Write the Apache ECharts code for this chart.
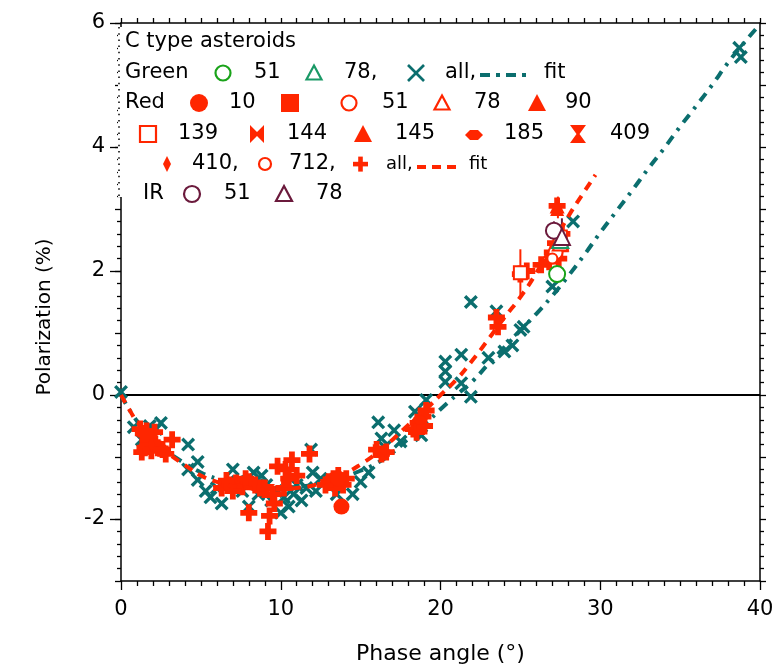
<!DOCTYPE html>
<html><head><meta charset="utf-8">
<script src="https://cdn.jsdelivr.net/npm/echarts@6/dist/echarts.min.js"></script>
<style>html,body{margin:0;padding:0;background:#fff}#c{width:781px;height:671px}</style>
</head><body><div id="c"></div>
<script>
// ---------- data ----------
const xTickValues = [0, 10, 20, 30, 40];
const yTickLabels = [-2, 0, 2, 4, 6];

// Green filter, all asteroids (x markers)
const greenAll = [
 [0.0,0.05],[0.8,-0.52],[1.3,-0.72],[1.8,-0.5],[2.2,-0.55],[2.5,-0.45],[4.2,-0.8],[4.8,-1.08],[4.2,-1.2],
 [4.8,-1.37],[5.3,-1.55],[5.6,-1.65],[6.0,-1.5],[6.3,-1.75],[7.0,-1.2],[7.3,-1.4],[7.6,-1.55],[8.0,-1.8],
 [8.3,-1.25],[8.6,-1.6],[8.8,-1.3],[9.1,-1.45],[9.4,-1.7],[9.7,-1.55],[10.0,-1.9],[10.2,-1.65],[10.5,-1.8],
 [10.8,-1.6],[11.0,-1.45],[11.3,-1.7],[11.6,-1.5],[11.9,-0.88],[12.2,-1.55],[12.5,-1.35],[12.0,-1.25],
 [13.2,-1.45],[13.5,-1.6],[14.5,-1.6],[15.0,-1.4],[15.5,-1.25],[16.1,-0.44],[16.3,-0.7],[16.5,-0.84],
 [17.1,-0.57],[17.5,-0.75],[18.4,-0.27],[18.6,-0.53],[18.8,-0.65],[19.1,-0.08],[20.3,0.54],[20.3,0.38],
 [20.3,0.21],[21.3,0.65],[21.3,0.19],[21.9,-0.03],[21.9,1.5],[23.0,0.6],[23.5,1.35],[24.0,0.7],[24.5,0.8],
 [25.0,1.05],[25.2,1.1],[27.0,1.75],[28.3,2.8],[38.7,5.6],[38.8,5.45]
];
const greenFit = [
 [0,0],[1,-0.42],[2,-0.7],[3,-0.93],[4,-1.1],[5,-1.25],[6,-1.35],[7,-1.42],[8,-1.47],[9,-1.5],[10,-1.5],
 [11,-1.48],[12,-1.45],[13,-1.4],[14,-1.32],[15,-1.22],[16,-1.1],[17,-0.93],[18,-0.7],[19,-0.48],[20,-0.23],
 [21,0.0],[22,0.22],[23,0.5],[24,0.77],[25,1.04],[26,1.31],[27,1.6],[28,1.92],[29,2.26],[30,2.62],[31,2.96],
 [32,3.3],[33,3.65],[34,3.98],[35,4.33],[36,4.66],[37,5.0],[38,5.36],[39,5.68],[39.8,5.92]
];
const green51 = [[27.3,1.95]];
const green78 = [[27.5,2.5]];

// Red filter
const redAll = [
 [1.2,-0.55],[1.4,-0.62],[1.6,-0.58],[1.8,-0.7],[1.5,-0.85],[1.3,-0.92],[1.9,-0.9],[2.1,-0.6],[2.3,-0.85],
 [2.6,-0.88],[2.8,-0.95],[3.2,-0.72],[1.7,-0.75],[2.0,-0.78],
 [6.3,-1.5],[6.8,-1.45],[7.2,-1.42],[7.6,-1.48],[8.0,-1.4],[8.4,-1.45],[7.0,-1.55],[8.7,-1.5],[6.6,-1.38],[7.8,-1.35],
 [8.0,-1.9],[9.2,-2.2],[9.3,-1.95],[9.5,-1.6],[9.8,-1.15],[10.3,-1.2],[10.7,-1.05],[10.2,-1.5],[11.0,-1.3],
 [11.8,-0.95],[9.0,-1.5],[10.5,-1.35],[9.6,-1.75],
 [13.0,-1.4],[13.3,-1.35],[13.6,-1.3],[13.9,-1.45],[14.1,-1.35],[13.4,-1.5],[12.8,-1.45],
 [16.0,-0.88],[16.3,-0.95],[16.6,-0.92],
 [18.3,-0.55],[18.6,-0.45],[18.9,-0.35],[19.1,-0.25],[18.5,-0.6],[19.0,-0.5],
 [23.5,1.25],[23.6,1.1],[25.0,1.95],[25.4,2.0],[26.3,2.1],[26.8,2.15],[27.0,2.3],[27.2,2.45],[27.4,2.2],
 [27.6,2.6],[27.5,2.35],[27.3,3.05]
];
const redFit = [
 [0,0],[0.6,-0.27],[1,-0.43],[2,-0.72],[3,-0.95],[4,-1.13],[5,-1.3],[6,-1.4],[7,-1.47],[8,-1.5],[9,-1.52],
 [10,-1.52],[11,-1.5],[12,-1.46],[13,-1.38],[14,-1.27],[15,-1.12],[16,-0.94],[17,-0.72],[18,-0.48],[19,-0.25],
 [20,0.0],[21,0.25],[22,0.56],[23,0.9],[24,1.25],[25,1.58],[26,1.97],[27,2.42],[28,2.88],[29,3.28],[29.7,3.55]
];
const red10 = [[13.8,-1.8],[13.6,-1.35]];
const red11 = [[1.6,-0.65]];
const red51 = [[27.2,2.3]];
const red78 = [[27.5,2.45]];
const red90 = [[27.3,3.05]];
const red139 = [[25.0,1.97],[27.5,2.55]];
const red144 = [[16.2,-0.9]];
const red145 = [[27.3,3.0]];
const red185 = [[18.7,-0.4]];
const red409 = [[9.2,-1.55]];
const red410 = [[1.9,-0.8]];
const red712 = [[27.0,2.2]];

// IR filter
const ir51 = [[27.1,2.65]];
const ir78 = [[27.6,2.55]];

// error bars [x, low, high]
const redErr = [[25.0,1.6,2.35],[27.35,2.85,3.2]];
const greenErr = [[27.3,1.8,2.1],[27.5,2.35,2.75]];
const irErr = [[27.1,2.5,2.8],[27.6,2.35,2.85]];

// ---------- style ----------
const F = '"DejaVu Sans", Verdana, sans-serif';
const RED = '#ff2600', TEAL = '#0b6e6e', GREEN = '#1aa31a', GREEN2 = '#1a9966', IR = '#6b1a3c';
const X_PATH = 'path://M0,1.7L1.7,0L5,3.3L8.3,0L10,1.7L6.7,5L10,8.3L8.3,10L5,6.7L1.7,10L0,8.3L3.3,5Z';
const PLUS_PATH = 'path://M3.3,0H6.7V3.3H10V6.7H6.7V10H3.3V6.7H0V3.3H3.3Z';
const BOW_PATH = 'path://M0,0L5,4L10,0V10L5,6L0,10Z';
const HOUR_PATH = 'path://M0,0H10L6,5L10,10H0L4,5Z';
const LENS_PATH = 'path://M0,5L3,0H7L10,5L7,10H3Z';

function sc(name, data, symbol, size, color, opts) {
  opts = opts || {};
  const hollow = opts.hollow;
  return {
    name, type: 'scatter', data, symbol, symbolSize: size, z: opts.z || 3,
    itemStyle: hollow ? {color: '#fff', opacity: 1, borderColor: color, borderWidth: 2} : {color, opacity: 1},
    emphasis: {disabled: true}
  };
}
function errSeries(data, color) {
  return {
    type: 'custom', data, z: 2,
    renderItem: function (params, api) {
      const p1 = api.coord([api.value(0), api.value(1)]);
      const p2 = api.coord([api.value(0), api.value(2)]);
      return {type: 'line', shape: {x1: p1[0], y1: p1[1], x2: p2[0], y2: p2[1]}, style: {stroke: color, lineWidth: 2}};
    }
  };
}

// ---------- legend (graphic) ----------
const G = [];
function txt(x, y, s, size) { G.push({type: 'text', x, y, z: 100, style: {text: s, fill: '#000', font: (size || 21) + 'px ' + F, verticalAlign: 'middle', align: 'left'}}); }
function circ(cx, cy, r, color, fill) { G.push({type: 'circle', z: 100, shape: {cx, cy, r}, style: fill ? {fill: color} : {fill: 'none', stroke: color, lineWidth: 2.2}}); }
function poly(cx, cy, pts, color, fill) { G.push({type: 'polygon', z: 100, shape: {points: pts.map(p => [cx + p[0], cy + p[1]])}, style: fill ? {fill: color} : {fill: 'none', stroke: color, lineWidth: 2.2}}); }
function seg(x1, x2, y, color, dash) { G.push({type: 'line', z: 100, shape: {x1, y1: y, x2, y2: y}, style: {stroke: color, lineWidth: 4, lineDash: dash}}); }
const TRI = [[0,-7.5],[7.5,6.5],[-7.5,6.5]];
const SQ = [[-8,-8],[8,-8],[8,8],[-8,8]];

G.push({type:'rect', z: 90, shape:{x:118, y:27, width:8, height:170}, style:{fill:'#fff'}});
G.push({type:'line', z: 91, shape:{x1:119, y1:27, x2:119, y2:197}, style:{stroke:'#000', lineWidth:1.5, lineDash:[1.5,4.7]}});

txt(125, 42, 'C type asteroids');
// row 2
txt(125, 73, 'Green'); circ(223, 73, 7.5, GREEN); txt(254, 73, '51'); poly(314, 73, TRI, GREEN2);
txt(344, 73, '78,');
G.push({type:'line', z:100, shape:{x1:408,y1:65,x2:424,y2:81}, style:{stroke:TEAL,lineWidth:2.6}});
G.push({type:'line', z:100, shape:{x1:424,y1:65,x2:408,y2:81}, style:{stroke:TEAL,lineWidth:2.6}});
txt(445, 73, 'all,'); seg(480, 527, 75, TEAL, [10, 6, 4, 6]); txt(544, 73, 'fit');
// row 3
txt(125, 103, 'Red'); circ(199, 103, 9, RED, true); txt(229, 103, '10');
poly(290, 103, [[-9,-9],[9,-9],[9,9],[-9,9]], RED, true);
circ(349, 103, 7.5, RED); txt(382, 103, '51'); poly(442, 103, TRI, RED); txt(474, 103, '78');
poly(537, 103, [[0,-9],[9,8],[-9,8]], RED, true); txt(565, 103, '90');
// row 4
poly(148, 134, SQ, RED); txt(178, 134, '139');
poly(257, 134, [[-7,-9],[0,-2],[7,-9],[7,9],[0,2],[-7,9]], RED, true); txt(287, 134, '144');
poly(363, 134, [[0,-9],[9,8],[-9,8]], RED, true); txt(395, 134, '145');
poly(474, 135, [[-9,0],[-4,-5],[4,-5],[9,0],[4,5],[-4,5]], RED, true); txt(504, 134, '185');
poly(578, 134, [[-8,-9],[8,-9],[1.5,0],[8,9],[-8,9],[-1.5,0]], RED, true); txt(610, 134, '409');
// row 5
poly(167, 164, [[0,-8],[4,0],[0,8],[-4,0]], RED, true); txt(192, 164, '410,');
circ(265, 164, 6, RED); txt(289, 164, '712,');
G.push({type:'rect', z:100, shape:{x:353,y:161.8,width:15,height:4.6}, style:{fill:RED}});
G.push({type:'rect', z:100, shape:{x:358.2,y:156.6,width:4.6,height:15}, style:{fill:RED}});
txt(386, 164, 'all,', 18); seg(417, 459, 167, RED, [9, 6]); txt(469, 164, 'fit', 18);
// row 6
txt(143, 194, 'IR'); circ(192, 194, 8, IR); txt(224, 194, '51'); poly(284, 194, [[0,-8],[8,7],[-8,7]], IR); txt(316, 194, '78');

// ---------- chart ----------
const chart = echarts.init(document.getElementById('c'), null, {renderer: 'canvas'});
const axisLine = {show: true, onZero: false, lineStyle: {color: '#000', width: 1.5}};
const tickStyle = {color: '#000', width: 1.3};
chart.setOption({
  animation: false,
  backgroundColor: '#fff',
  grid: {left: 121, right: 21, top: 23, bottom: 90, containLabel: false},
  xAxis: [
    {type: 'value', min: 0, max: 40, interval: 10, position: 'bottom',
     axisLine, splitLine: {show: false},
     axisTick: {show: true, length: 9, lineStyle: tickStyle},
     minorTick: {show: true, splitNumber: 10, length: 5, lineStyle: tickStyle},
     axisLabel: {margin: 18, fontSize: 21, color: '#000', fontFamily: F,
                 formatter: v => xTickValues.includes(v) ? String(v) : ''},
     name: 'Phase angle (°)', nameLocation: 'middle', nameGap: 62,
     nameTextStyle: {fontSize: 22, color: '#000', fontFamily: F}},
    {type: 'value', min: 0, max: 40, interval: 10, position: 'top',
     axisLine, splitLine: {show: false},
     axisTick: {show: true, length: 5, lineStyle: tickStyle},
     minorTick: {show: true, splitNumber: 10, length: 5, lineStyle: tickStyle},
     axisLabel: {show: false}}
  ],
  yAxis: [
    {type: 'value', min: -3, max: 6, interval: 1, position: 'left',
     axisLine, splitLine: {show: false},
     axisTick: {show: true, length: 6, lineStyle: tickStyle},
     minorTick: {show: true, splitNumber: 5, length: 4, lineStyle: tickStyle},
     axisLabel: {margin: 16, fontSize: 21, color: '#000', fontFamily: F,
                 formatter: v => yTickLabels.includes(v) ? String(v) : ''},
     name: 'Polarization (%)', nameLocation: 'middle', nameGap: 66, nameRotate: 90,
     nameTextStyle: {fontSize: 20, color: '#000', fontFamily: F, padding: [0, 30, 0, 0]}},
    {type: 'value', min: -3, max: 6, interval: 1, position: 'left',
     axisLine: {show: false}, splitLine: {show: false},
     axisTick: {show: true, length: 11, lineStyle: tickStyle, customValues: yTickLabels},
     axisLabel: {show: false}},
    {type: 'value', min: -3, max: 6, interval: 1, position: 'right',
     axisLine, splitLine: {show: false},
     axisTick: {show: true, length: 6, lineStyle: tickStyle},
     minorTick: {show: true, splitNumber: 5, length: 4, lineStyle: tickStyle},
     axisLabel: {show: false}}
  ],
  graphic: {elements: G},
  series: [
    {type: 'line', name: 'zero', data: [[0, 0], [40, 0]], symbol: 'none', z: 1,
     lineStyle: {color: '#000', width: 2}, silent: true},
    sc('Green all', greenAll, X_PATH, 14, TEAL, {z: 3}),
    {type: 'line', name: 'Green fit', data: greenFit, smooth: true, showSymbol: false, symbol: 'none', z: 4,
     lineStyle: {color: TEAL, width: 4, type: [10, 7, 3, 7]}},
    sc('Red all', redAll, PLUS_PATH, 17, RED, {z: 5}),
    {type: 'line', name: 'Red fit', data: redFit, smooth: true, showSymbol: false, symbol: 'none', z: 6,
     lineStyle: {color: RED, width: 4, type: [9, 7]}},
    errSeries(redErr, RED), errSeries(greenErr, GREEN), errSeries(irErr, IR),
    sc('Red 10', red10, 'circle', 16, RED, {z: 7}),
    sc('Red 11', red11, 'rect', 14, RED, {z: 7}),
    sc('Red 51', red51, 'circle', 14, RED, {z: 7, hollow: true}),
    sc('Red 78', red78, 'triangle', 15, RED, {z: 7, hollow: true}),
    sc('Red 90', red90, 'triangle', 15, RED, {z: 7}),
    sc('Red 139', red139, 'rect', 13, RED, {z: 7, hollow: true}),
    sc('Red 144', red144, BOW_PATH, 14, RED, {z: 7}),
    sc('Red 145', red145, 'triangle', 14, RED, {z: 7}),
    sc('Red 185', red185, LENS_PATH, [16, 9], RED, {z: 7}),
    sc('Red 409', red409, HOUR_PATH, 14, RED, {z: 7}),
    sc('Red 410', red410, 'diamond', [8, 15], RED, {z: 7}),
    sc('Red 712', red712, 'circle', 10, RED, {z: 7, hollow: true}),
    sc('Green 51', green51, 'circle', 16, GREEN, {z: 8, hollow: true}),
    sc('Green 78', green78, 'triangle', 16, GREEN2, {z: 8, hollow: true}),
    sc('IR 51', ir51, 'circle', 16, IR, {z: 8, hollow: true}),
    sc('IR 78', ir78, 'triangle', 16, IR, {z: 8, hollow: true})
  ]
});
</script></body></html>
